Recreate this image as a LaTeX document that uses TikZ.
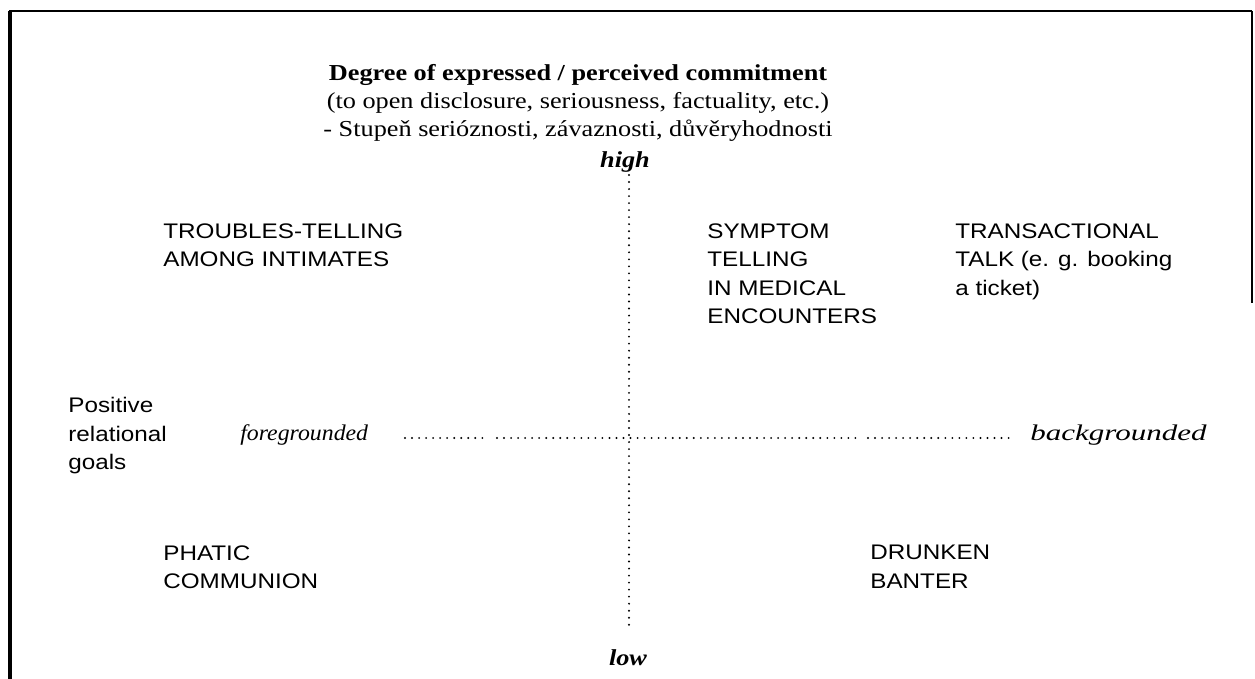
\documentclass[tikz,border=0pt]{standalone}
\usepackage{fontspec}
\setmainfont{Liberation Serif}[FakeStretch=1.15]
\setsansfont{Liberation Sans}[FakeStretch=1.15]
\begin{document}
\begin{tikzpicture}[x=0.02cm,y=-0.02cm,
  lab/.style={font=\sffamily\fontsize{12}{16.3}\selectfont, align=left, anchor=north west, inner sep=0pt},
  ttl/.style={font=\rmfamily\fontsize{13}{15.9}\selectfont, align=center, anchor=north, inner sep=0pt},
  pole/.style={font=\rmfamily\bfseries\itshape\fontsize{13}{14}\selectfont, anchor=base, inner sep=0pt},
  side/.style={font=\rmfamily\itshape\fontsize{12.8}{14}\selectfont, anchor=base west, inner sep=0pt},
  dotline/.style={line width=1.2pt, dash pattern=on 0pt off 4pt, line cap=round},
  frame/.style={line width=2.2pt}]
\useasboundingbox (0,0) rectangle (1255,679);
% frame
\draw[frame] (10,679) -- (10,11);
\draw[line width=1.7pt] (9,11) -- (1252,11);
\draw[line width=1.1pt] (1252,11) -- (1252,303);
% title
\node[ttl] (title) at (578,64) {{\bfseries Degree of expressed / perceived commitment}\\(to open disclosure, seriousness, factuality, etc.)\\- Stupeň serióznosti, závaznosti, důvěryhodnosti};
% poles
\node[pole] (high) at (625,168) {high};
\node[pole] (low) at (628,665) {low};
\node[side] (fg) at (240,440) {\scalebox{0.92}[1]{foregrounded}};
\node[side] (bg) at (1030,440) {\scalebox{1.2}[1]{backgrounded}};
% quadrant labels
\node[lab] (troubles) at (163,223) {TROUBLES-TELLING\\AMONG INTIMATES};
\node[lab] (symptom) at (707,223) {SYMPTOM\\TELLING\\IN MEDICAL\\ENCOUNTERS};
\node[lab] (trans) at (955,223) {TRANSACTIONAL\\TALK (e. g. booking\\a ticket)};
\node[lab] (phatic) at (163,545) {PHATIC\\COMMUNION};
\node[lab] (drunken) at (870,545) {DRUNKEN\\BANTER};
\node[lab] (positive) at (68,397) {Positive\\relational\\goals};
% axes
\coordinate (vtop) at (629,175);
\coordinate (vbot) at (629,627);
\draw[dotline] (vtop) -- (vbot);
\coordinate (h1) at (405,438);
\coordinate (h2) at (487,438);
\coordinate (h3) at (497,438);
\coordinate (h4) at (858,438);
\coordinate (h5) at (868,438);
\coordinate (h6) at (1010,438);
\draw[dotline] (h1) -- (h2);
\draw[dotline] (h3) -- (h4);
\draw[dotline] (h5) -- (h6);
\end{tikzpicture}
\end{document}
